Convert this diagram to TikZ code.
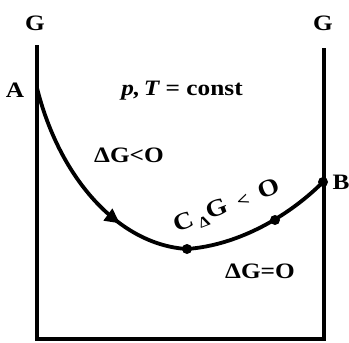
\documentclass[tikz,border=0pt]{standalone}
\usepackage{fontspec}
\setmainfont{Liberation Serif}[FakeStretch=1.15]
\usetikzlibrary{decorations.markings,arrows.meta}
\begin{document}
\begin{tikzpicture}[x=1pt,y=-1pt,
  wall/.style={line width=3.4pt},
  curve/.style={line width=3.8pt},
  dotpt/.style={circle,fill=black,inner sep=0pt,minimum size=10pt},
  lbl/.style={inner sep=0pt,anchor=base,font=\bfseries\fontsize{22}{22}\selectfont},
  midarrow/.style={postaction={decorate},decoration={markings,mark=at position #1 with {\arrow{Triangle[length=15pt,width=14pt]}}}}]
\useasboundingbox (0,0) rectangle (349,343);
% walls
\coordinate (LT) at (37,45);
\coordinate (LB) at (37,339);
\coordinate (RB) at (324,339);
\coordinate (RT) at (324,48);
\draw[wall] (LT) -- (LB) -- (RB) -- (RT);
% points
\coordinate (A) at (37,88);
\node[dotpt] (M) at (187,249) {};
\node[dotpt] (D) at (275,220) {};
\node[dotpt] (B) at (323,182) {};
% curve
\draw[curve,midarrow=0.69] (A) .. controls (60,180) and (120,245) .. (M.center);
\draw[curve] (M.center) .. controls (240,245) and (290,215) .. (B.center);
% labels
\node[lbl] (GL) at (35,30) {G};
\node[lbl] (GR) at (323,30) {G};
\node[lbl] (Al) at (15,97) {A};
\node[lbl] (Bl) at (341,189) {B};
\node[lbl] (pT) at (182,95) {\itshape p,\,T\upshape\ = const};
\node[lbl] (dg1) at (129,162) {ΔG<O};
\node[lbl] (dg2) at (260,278) {ΔG=O};
\node[lbl,anchor=center,rotate=21] (cdg) at (227,207) {\fontsize{24}{24}\selectfont C\,\raisebox{-5pt}{\fontsize{15}{15}\selectfont Δ}G\, {\fontsize{19}{19}\selectfont <}\, O};
\end{tikzpicture}
\end{document}
